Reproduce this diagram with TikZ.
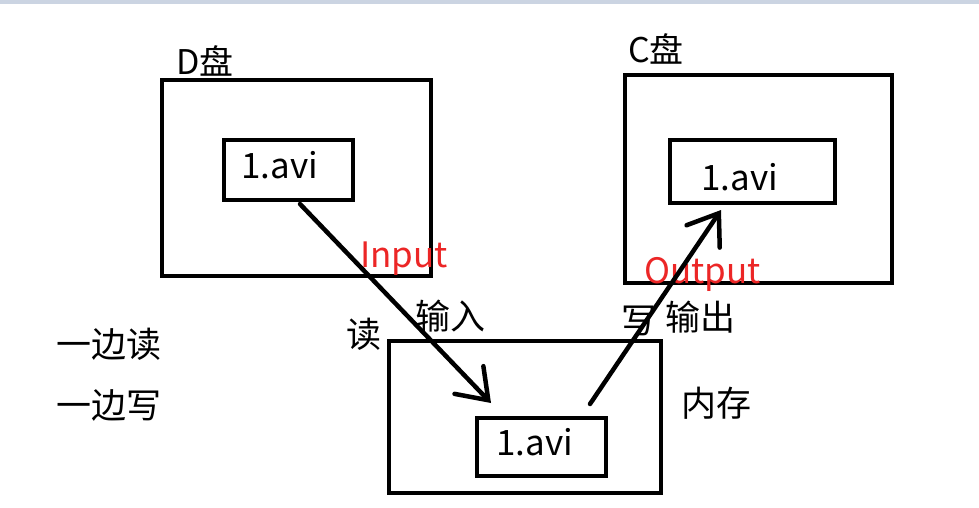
\documentclass[tikz,border=0pt]{standalone}
\usepackage{fontspec}
\setmainfont{Noto Sans CJK SC}
\usetikzlibrary{arrows.meta,calc}
\definecolor{topband}{RGB}{203,212,226}
\definecolor{redtxt}{RGB}{236,38,38}
\tikzset{
  box/.style={draw=black, line width=4pt, inner sep=0pt, fill=none},
  txt/.style={anchor=base west, inner sep=0pt, font=\fontsize{35}{40}\selectfont},
  lbl/.style={anchor=base west, inner sep=0pt, font=\fontsize{34}{40}\selectfont},
  red/.style={txt, text=redtxt},
  flow/.style={line width=4.5pt, line cap=round, -{Straight Barb[length=28pt,width=40pt,line cap=round]}}
}
\begin{document}
\begin{tikzpicture}[x=1pt,y=-1pt]
\useasboundingbox (0,0) rectangle (979,507);
\fill[white] (0,0) rectangle (979,507);
\fill[topband] (0,0) rectangle (979,4);
% boxes
\node (D) [box, minimum width=269pt, minimum height=196pt] at (296.5,178) {};
\node (Din) [box, minimum width=129pt, minimum height=60pt] at (288.5,170) {};
\node (C) [box, minimum width=267pt, minimum height=208pt] at (758.5,179) {};
\node (Cin) [box, minimum width=165pt, minimum height=63pt] at (752.5,171.5) {};
\node (M) [box, minimum width=272pt, minimum height=152pt] at (525,417) {};
\node (Min) [box, minimum width=129pt, minimum height=58pt] at (541.5,447) {};
% texts
\node (Dl) [lbl] at (176,74) {D盘};
\node (Cl) [lbl] at (628,62) {C盘};
\node (Df) [txt] at (241,178) {1.avi};
\node (Cf) [txt] at (701,190) {1.avi};
\node (Mf) [txt] at (496,455) {1.avi};
\node (In) [red] at (360,267) {Input};
\node (Out) [red] at (644,283) {Output};
\node (du) [txt] at (346,347) {读};
\node (shuru) [txt] at (415,329) {输入};
\node (xie) [txt] at (621,333) {写};
\node (shuchu) [txt] at (665,330) {输出};
\node (neicun) [txt] at (681,416) {内存};
\node (r1) [txt] at (56,357) {一边读};
\node (r2) [txt] at (56,418) {一边写};
% connectors
\coordinate (a1s) at ($(Din.south west)+(78,2)$);
\coordinate (a1e) at ($(Min.north west)+(16,-13)$);
\coordinate (a2s) at ($(Min.north west)+(115,-12)$);
\coordinate (a2e) at ($(Cin.south west)+(53,5)$);
\draw[flow] (a1s) -- (a1e);
\draw[flow] (a2s) -- (a2e);
\end{tikzpicture}
\end{document}
